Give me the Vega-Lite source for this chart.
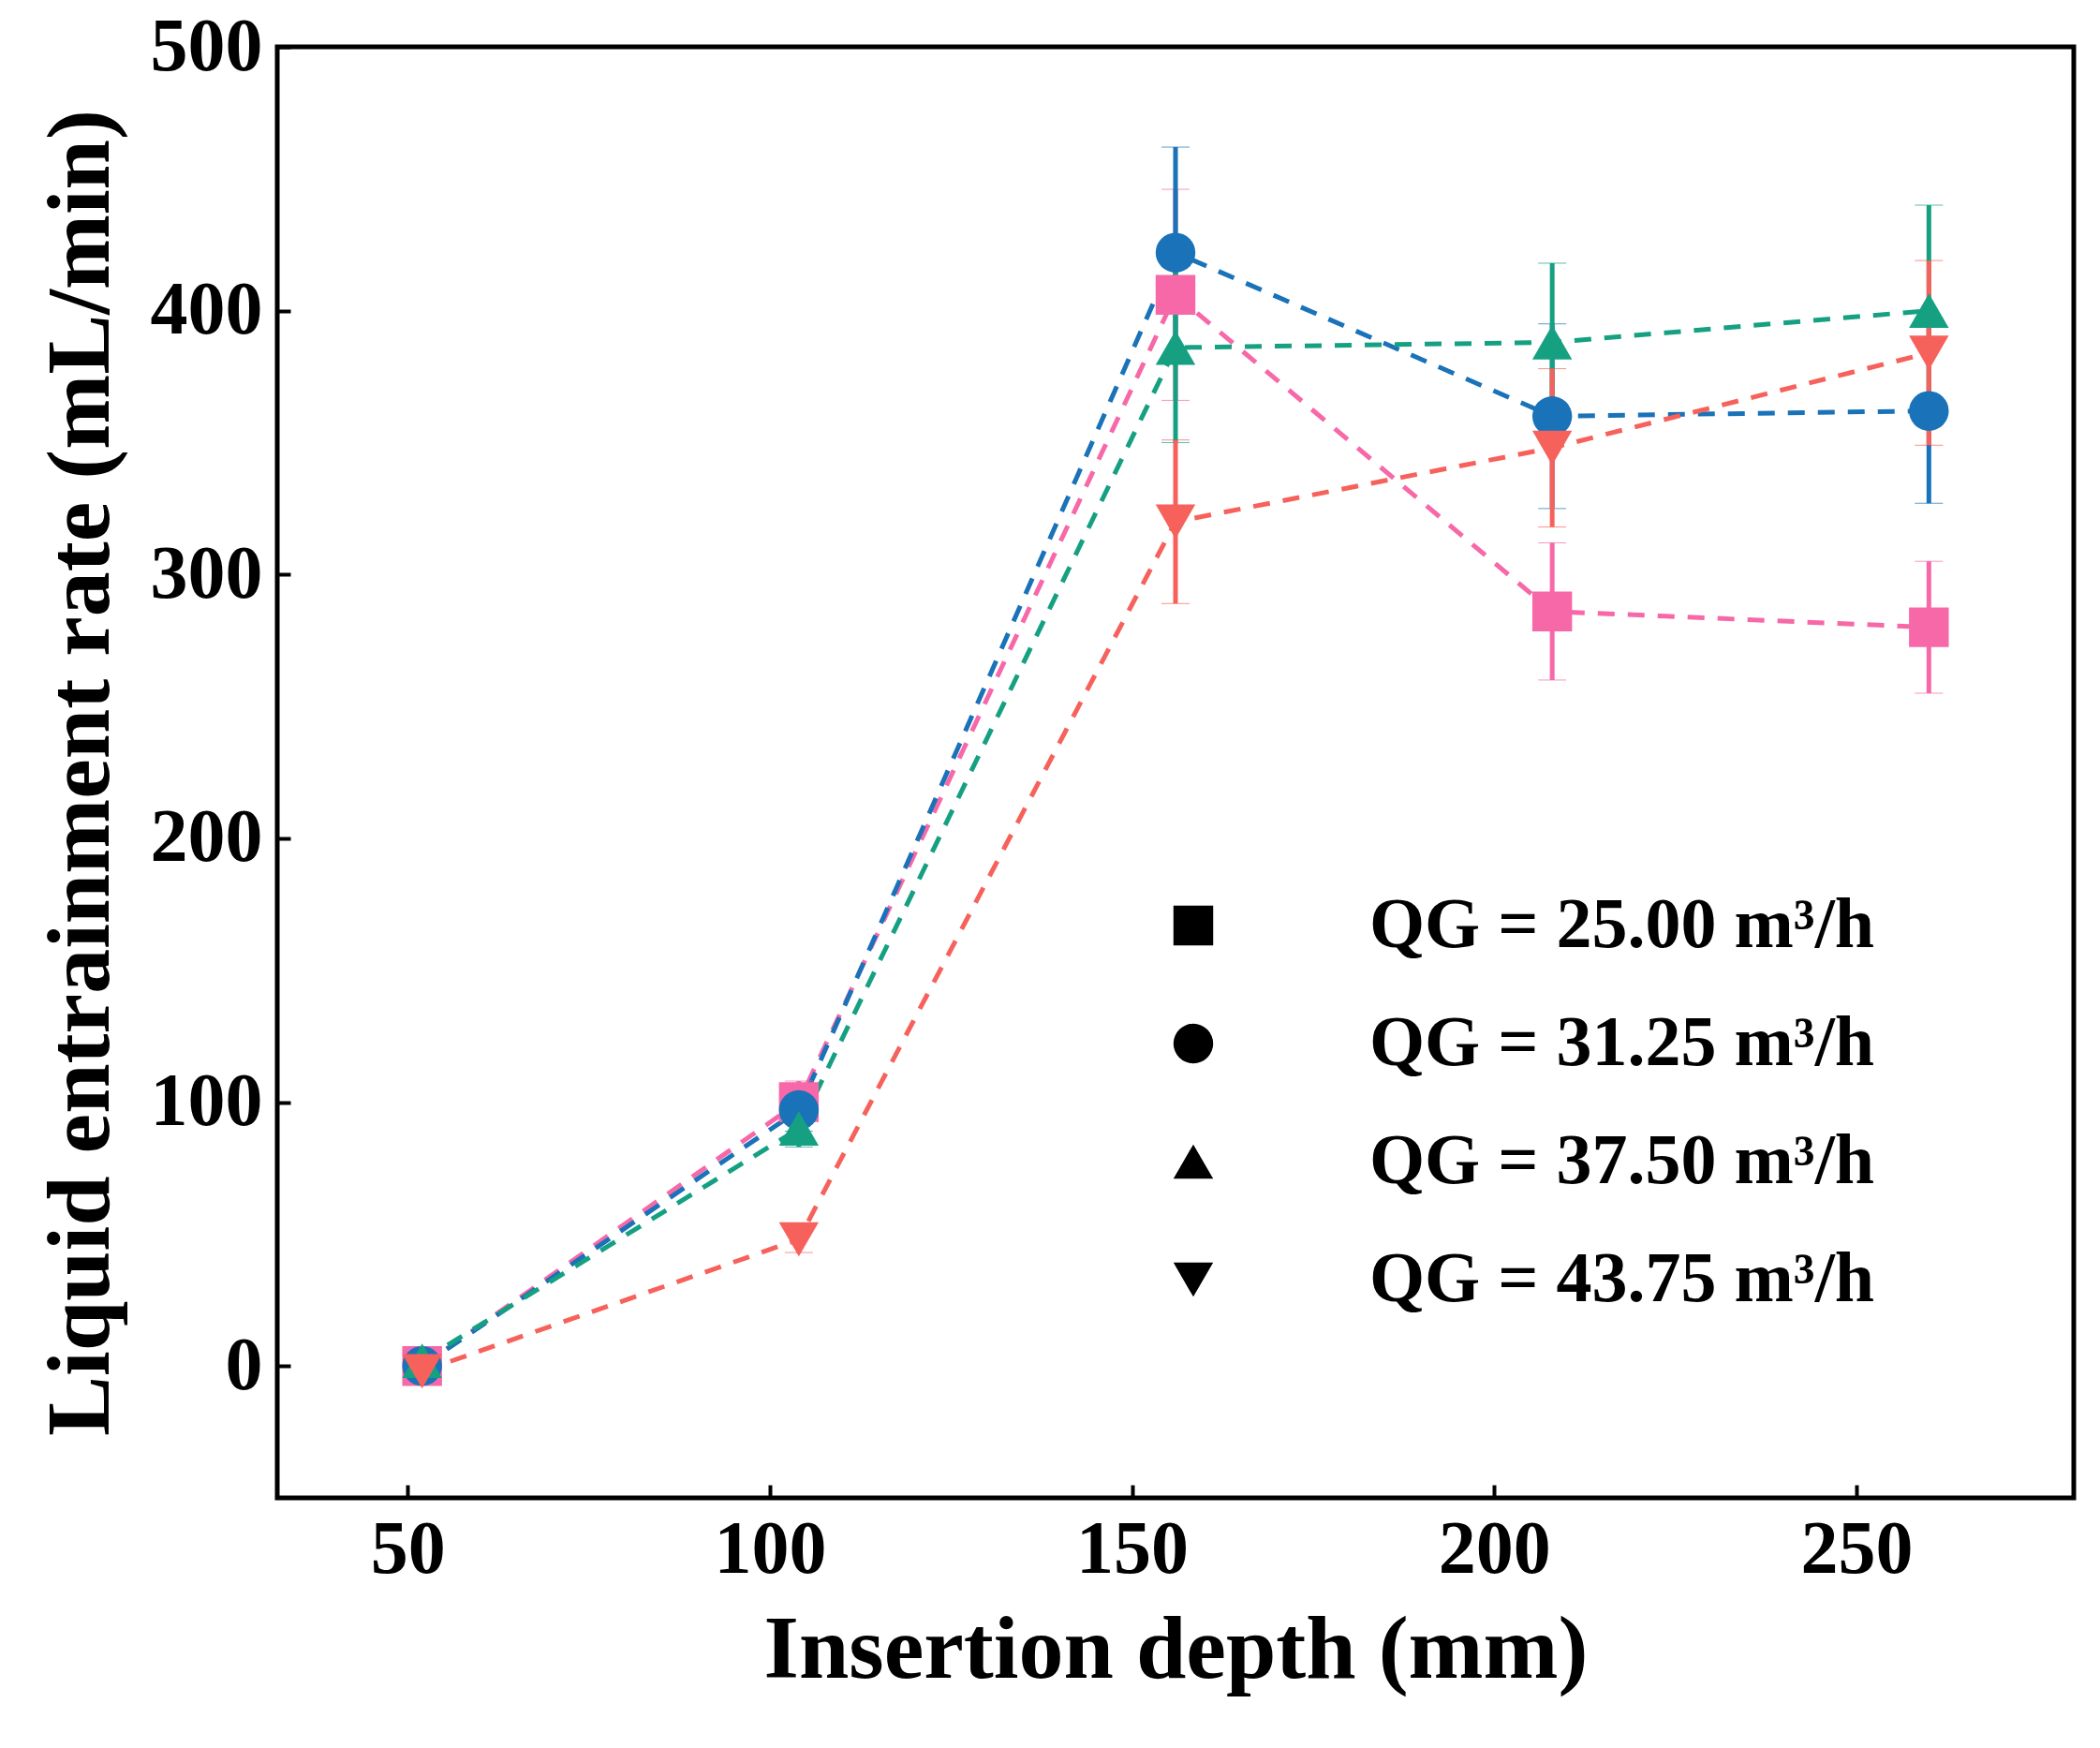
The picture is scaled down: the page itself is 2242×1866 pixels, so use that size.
{
"$schema":"https://vega.github.io/schema/vega-lite/v6.json",
"width":1918,"height":1549,
"autosize":{"type":"none"},
"padding":{"left":296,"top":50,"right":28,"bottom":267},
"background":"white",
"config":{"view":{"stroke":"black","strokeWidth":5},"font":"Liberation Serif"},
"data":{"values":[
{"s":"QG = 25.00 m³/h","x":52,"y":0,"e":3},
{"s":"QG = 25.00 m³/h","x":104,"y":100,"e":8},
{"s":"QG = 25.00 m³/h","x":156,"y":406,"e":40},
{"s":"QG = 25.00 m³/h","x":208,"y":286,"e":26},
{"s":"QG = 25.00 m³/h","x":260,"y":280,"e":25},
{"s":"QG = 31.25 m³/h","x":52,"y":0,"e":3},
{"s":"QG = 31.25 m³/h","x":104,"y":97,"e":8},
{"s":"QG = 31.25 m³/h","x":156,"y":422,"e":40},
{"s":"QG = 31.25 m³/h","x":208,"y":360,"e":35},
{"s":"QG = 31.25 m³/h","x":260,"y":362,"e":35},
{"s":"QG = 37.50 m³/h","x":52,"y":2,"e":3},
{"s":"QG = 37.50 m³/h","x":104,"y":90,"e":7},
{"s":"QG = 37.50 m³/h","x":156,"y":386,"e":36},
{"s":"QG = 37.50 m³/h","x":208,"y":388,"e":30},
{"s":"QG = 37.50 m³/h","x":260,"y":400,"e":40},
{"s":"QG = 43.75 m³/h","x":52,"y":-2,"e":3},
{"s":"QG = 43.75 m³/h","x":104,"y":48,"e":5},
{"s":"QG = 43.75 m³/h","x":156,"y":320,"e":31},
{"s":"QG = 43.75 m³/h","x":208,"y":348,"e":30},
{"s":"QG = 43.75 m³/h","x":260,"y":384,"e":35}
]},
"encoding":{
"x":{"field":"x","type":"quantitative","scale":{"domain":[32,280],"nice":false,"zero":false},
 "axis":{"values":[50,100,150,200,250],"title":"Insertion depth (mm)","titleFontSize":96,"titleFontWeight":"bold","labelFontSize":80,"labelFontWeight":"bold","labelColor":"black","titleColor":"black","tickSize":-14,"tickWidth":4,"tickColor":"black","domain":false,"grid":false,"labelPadding":30,"titlePadding":20}},
"y":{"field":"y","type":"quantitative","scale":{"domain":[-50,500],"nice":false},
 "axis":{"values":[0,100,200,300,400,500],"title":"Liquid entrainment rate (mL/min)","titleFontSize":96,"titleFontWeight":"bold","labelFontSize":80,"labelFontWeight":"bold","labelColor":"black","titleColor":"black","tickSize":-14,"tickWidth":4,"tickColor":"black","domain":false,"grid":false,"labelPadding":30,"titlePadding":25}}
},
"layer":[
{"mark":{"type":"line","strokeDash":[18,14],"strokeWidth":5},
 "encoding":{"color":{"field":"s","type":"nominal","scale":{"range":["#f768a8","#1a72b8","#16a082","#f7615b"]},"legend":null}}},
{"mark":{"type":"errorbar","ticks":{"size":30,"strokeWidth":5},"rule":{"strokeWidth":5}},
 "encoding":{"y":{"field":"y","type":"quantitative"},"yError":{"field":"e"},"color":{"field":"s","type":"nominal","legend":null}}},
{"mark":{"type":"point","filled":true,"opacity":1,"size":1800},
 "encoding":{
  "shape":{"field":"s","type":"nominal","scale":{"range":["square","circle","triangle-up","triangle-down"]},
   "legend":{"orient":"none","legendX":940,"legendY":900,"title":null,"labelFontSize":76,"labelFontWeight":"bold","labelColor":"black","labelLimit":0,"symbolSize":1800,"rowPadding":50,"labelOffset":150,"symbolOpacity":1}},
  "color":{"field":"s","type":"nominal","legend":{"orient":"none","legendX":940,"legendY":900,"title":null,"labelFontSize":76,"labelFontWeight":"bold","labelColor":"black","labelLimit":0,"symbolSize":1800,"rowPadding":50,"labelOffset":150,"symbolOpacity":1}}}}
]
}
